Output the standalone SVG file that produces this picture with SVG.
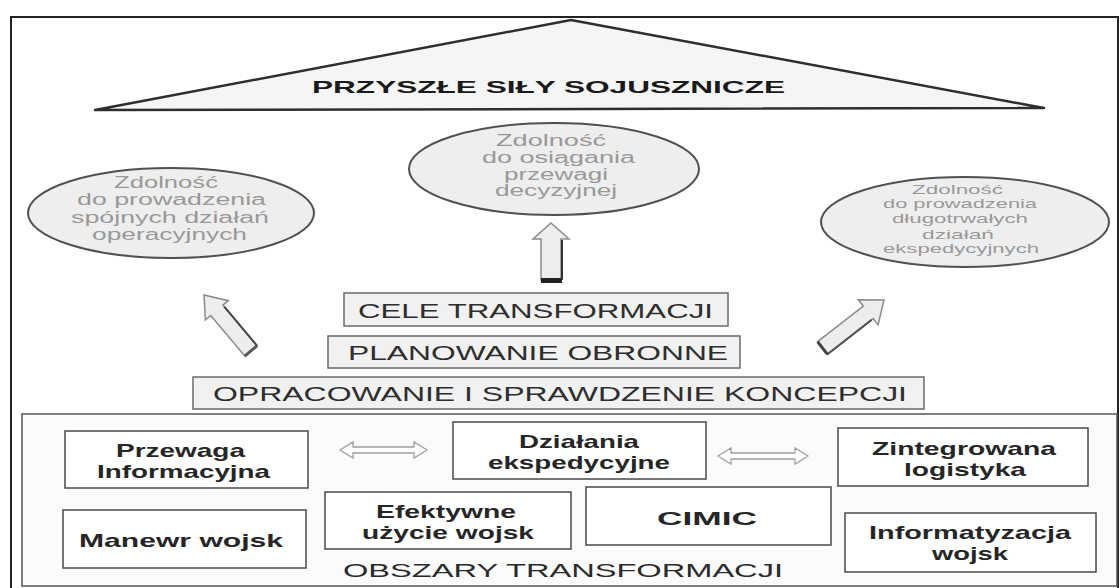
<svg xmlns="http://www.w3.org/2000/svg" width="1120" height="588" viewBox="0 0 1120 588">
<style>
.t{font-family:"Liberation Sans",Arial,sans-serif;}
.title{font-size:17px;font-weight:bold;fill:#1a1a1a;}
.ell{fill:#eeeeee;stroke:#505050;stroke-width:2;}
.et{font-size:16px;fill:#999999;}
.et2{font-size:13px;fill:#999999;}
.step{fill:#f1f1f1;stroke:#6a6a6a;stroke-width:1.5;}
.st{font-size:21px;fill:#2e2e2e;}
.box{fill:#ffffff;stroke:#4a4a4a;stroke-width:1.5;}
.bt{font-size:19px;font-weight:bold;fill:#262626;}
.arr{fill:#ededed;stroke:#8a8a8a;stroke-width:1.5;}
.darr{fill:#ffffff;stroke:#a0a0a0;stroke-width:1.3;}
</style>
<rect x="0" y="0" width="1120" height="588" fill="#ffffff"/>
<rect x="11" y="17" width="1107" height="590" fill="none" stroke="#222" stroke-width="2"/>

<g id="triangle">
<polygon points="95,110 571,20 1044,108" fill="#f5f5f5" stroke="#2e2e2e" stroke-width="2.5" stroke-linejoin="round"/>
<text class="t title" x="312" y="93" textLength="473" lengthAdjust="spacingAndGlyphs">PRZYSZŁE SIŁY SOJUSZNICZE</text>
</g>

<g id="ellipse-left">
<ellipse class="ell" cx="171" cy="213" rx="143" ry="45"/>
<text class="t et" x="114" y="188" textLength="104" lengthAdjust="spacingAndGlyphs">Zdolność</text>
<text class="t et" x="77" y="205" textLength="189" lengthAdjust="spacingAndGlyphs">do prowadzenia</text>
<text class="t et" x="71" y="223" textLength="198" lengthAdjust="spacingAndGlyphs">spójnych działań</text>
<text class="t et" x="92" y="240" textLength="155" lengthAdjust="spacingAndGlyphs">operacyjnych</text>
</g>

<g id="ellipse-middle">
<ellipse class="ell" cx="554" cy="169" rx="145" ry="46"/>
<text class="t et" x="496" y="146" textLength="110" lengthAdjust="spacingAndGlyphs">Zdolność</text>
<text class="t et" x="482" y="163" textLength="153" lengthAdjust="spacingAndGlyphs">do osiągania</text>
<text class="t et" x="504" y="180" textLength="104" lengthAdjust="spacingAndGlyphs">przewagi</text>
<text class="t et" x="495" y="196" textLength="122" lengthAdjust="spacingAndGlyphs">decyzyjnej</text>
</g>

<g id="ellipse-right">
<ellipse class="ell" cx="965" cy="222" rx="144" ry="45"/>
<text class="t et2" x="912" y="194" textLength="91" lengthAdjust="spacingAndGlyphs">Zdolność</text>
<text class="t et2" x="883" y="208" textLength="154" lengthAdjust="spacingAndGlyphs">do prowadzenia</text>
<text class="t et2" x="892" y="223" textLength="136" lengthAdjust="spacingAndGlyphs">długotrwałych</text>
<text class="t et2" x="922" y="239" textLength="72" lengthAdjust="spacingAndGlyphs">działań</text>
<text class="t et2" x="883" y="253" textLength="156" lengthAdjust="spacingAndGlyphs">ekspedycyjnych</text>
</g>

<g id="cele">
<rect class="step" x="344" y="293" width="384" height="33"/>
<text class="t st" x="358" y="318" textLength="355" lengthAdjust="spacingAndGlyphs">CELE TRANSFORMACJI</text>
</g>
<g id="planowanie">
<rect class="step" x="328" y="336" width="412" height="32"/>
<text class="t st" x="348" y="360" textLength="380" lengthAdjust="spacingAndGlyphs">PLANOWANIE OBRONNE</text>
</g>
<g id="opracowanie">
<rect class="step" x="193" y="377" width="731" height="32"/>
<text class="t st" x="213" y="401" textLength="694" lengthAdjust="spacingAndGlyphs">OPRACOWANIE I SPRAWDZENIE KONCEPCJI</text>
</g>

<g id="obszary">
<rect x="22" y="414" width="1095" height="172" fill="#fbfbfb" stroke="#555" stroke-width="1.5"/>
<text class="t" x="343" y="577" font-size="19" fill="#2a2a2a" textLength="440" lengthAdjust="spacingAndGlyphs">OBSZARY TRANSFORMACJI</text>
</g>

<g id="przewaga">
<rect class="box" x="65" y="431" width="243" height="57"/>
<text class="t bt" x="116" y="457" textLength="129" lengthAdjust="spacingAndGlyphs">Przewaga</text>
<text class="t bt" x="97" y="478" textLength="173" lengthAdjust="spacingAndGlyphs">Informacyjna</text>
</g>
<g id="manewr">
<rect class="box" x="63" y="510" width="243" height="58"/>
<text class="t bt" x="79" y="547" textLength="204" lengthAdjust="spacingAndGlyphs">Manewr wojsk</text>
</g>
<g id="dzialania">
<rect class="box" x="453" y="422" width="253" height="57"/>
<text class="t bt" x="519" y="448" textLength="120" lengthAdjust="spacingAndGlyphs">Działania</text>
<text class="t bt" x="488" y="469" textLength="182" lengthAdjust="spacingAndGlyphs">ekspedycyjne</text>
</g>
<g id="efektywne">
<rect class="box" x="325" y="492" width="246" height="57"/>
<text class="t bt" x="376" y="518" textLength="140" lengthAdjust="spacingAndGlyphs">Efektywne</text>
<text class="t bt" x="362" y="539" textLength="172" lengthAdjust="spacingAndGlyphs">użycie wojsk</text>
</g>
<g id="cimic">
<rect class="box" x="586" y="487" width="245" height="58"/>
<text class="t bt" x="657" y="525" textLength="100" lengthAdjust="spacingAndGlyphs">CIMIC</text>
</g>
<g id="zintegrowana">
<rect class="box" x="838" y="428" width="250" height="58"/>
<text class="t bt" x="872" y="455" textLength="184" lengthAdjust="spacingAndGlyphs">Zintegrowana</text>
<text class="t bt" x="904" y="476" textLength="122" lengthAdjust="spacingAndGlyphs">logistyka</text>
</g>
<g id="informatyzacja">
<rect class="box" x="845" y="513" width="251" height="59"/>
<text class="t bt" x="869" y="539" textLength="202" lengthAdjust="spacingAndGlyphs">Informatyzacja</text>
<text class="t bt" x="932" y="560" textLength="76" lengthAdjust="spacingAndGlyphs">wojsk</text>
</g>

<g id="connectors">
<polygon class="arr" points="551,223 569,239 561,239 561,280 541,280 541,239 533,239"/>
<rect x="541" y="278" width="21" height="5" fill="#222"/>
<line x1="562" y1="240" x2="562" y2="280" stroke="#333" stroke-width="2"/>
<g transform="translate(204,295) rotate(-40)">
<polygon class="arr" points="0,0 15,20 8,20 8,73 -8,73 -8,20 -15,20"/>
<line x1="8" y1="22" x2="8" y2="73" stroke="#444" stroke-width="2"/>
<line x1="-8" y1="73" x2="8" y2="73" stroke="#555" stroke-width="3"/>
</g>
<g transform="translate(884,300) rotate(52)">
<polygon class="arr" points="0,0 16,20 8,20 8,78 -8,78 -8,20 -16,20"/>
<line x1="8" y1="22" x2="8" y2="78" stroke="#555" stroke-width="2"/>
<line x1="-8" y1="78" x2="8" y2="78" stroke="#444" stroke-width="3"/>
</g>
<polygon class="darr" points="340,450 353,442 353,447 414,447 414,442 427,450 414,458 414,453 353,453 353,458"/>
<polygon class="darr" points="718,456 731,448 731,453 795,453 795,448 808,456 795,464 795,459 731,459 731,464"/>
</g>
</svg>
